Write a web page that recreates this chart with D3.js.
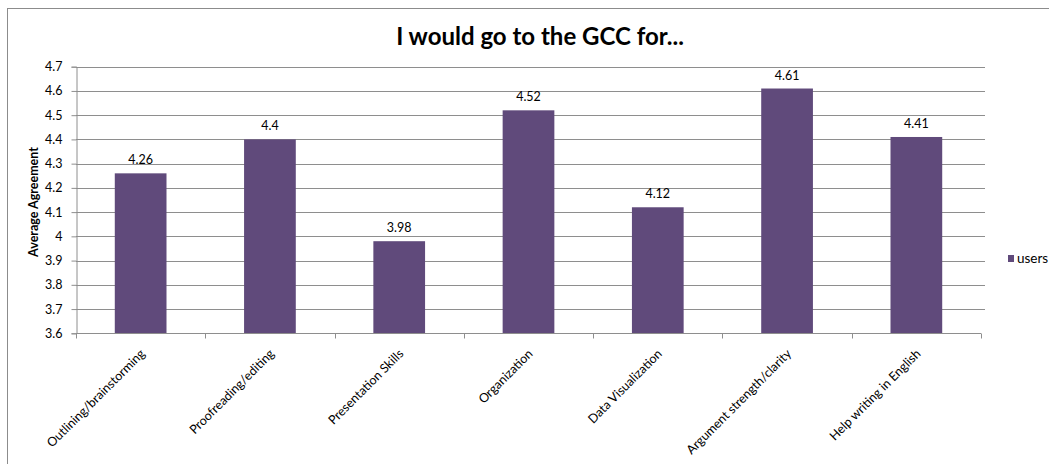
<!DOCTYPE html>
<html>
<head>
<meta charset="utf-8">
<script src="https://cdn.jsdelivr.net/npm/d3@7"></script>
<style>
  html, body { margin: 0; padding: 0; background: #fff; }
  svg { display: block; font-family: Lato, "Open Sans", "Liberation Sans", sans-serif; }
</style>
</head>
<body>
<svg id="chart" width="1049" height="464"></svg>
<script>
// Survey results: average agreement per service
const categories = [
  "Outlining/brainstorming",
  "Proofreading/editing",
  "Presentation Skills",
  "Organization",
  "Data Visualization",
  "Argument strength/clarity",
  "Help writing in English"
];
const users = [4.26, 4.4, 3.98, 4.52, 4.12, 4.61, 4.41];
const yTicks = [3.6, 3.7, 3.8, 3.9, 4, 4.1, 4.2, 4.3, 4.4, 4.5, 4.6, 4.7];
const seriesName = "users";
const chartTitle = "I would go to the GCC for...";
const yAxisTitle = "Average Agreement";

const svg = d3.select("#chart");
const W = 1049, H = 464;
const plot = { left: 76, right: 981, top: 66.7, bottom: 333.3 };
const barColor = "#604a7b";
const gridColor = "#8e8e8e";
const labelSize = "12.5px";

// outer chart frame
svg.append("rect")
  .attr("x", 7.5).attr("y", 8.5)
  .attr("width", W + 10).attr("height", H + 10)
  .attr("fill", "none").attr("stroke", "#8c8c8c").attr("stroke-width", 1);

const x = d3.scaleBand().domain(categories).range([plot.left, plot.right]).paddingInner(0.6).paddingOuter(0.3);
const xOuter = d3.scaleBand().domain(categories).range([plot.left, plot.right]);
const y = d3.scaleLinear().domain([3.6, 4.7]).range([plot.bottom, plot.top]);

// horizontal gridlines
svg.append("g").selectAll("line").data(yTicks.slice(1)).join("line")
  .attr("x1", plot.left).attr("x2", plot.right + 4)
  .attr("y1", d => Math.round(y(d)) + 0.5).attr("y2", d => Math.round(y(d)) + 0.5)
  .attr("stroke", gridColor).attr("stroke-width", 1);

// y axis
const yAxis = svg.append("g")
  .attr("transform", `translate(${plot.left + 0.5},0)`)
  .call(d3.axisLeft(y).tickValues(yTicks).tickSize(5).tickPadding(9).tickFormat(d => String(d)));
yAxis.select(".domain").attr("stroke", gridColor);
yAxis.selectAll(".tick line").attr("stroke", gridColor);
yAxis.selectAll(".tick text").attr("fill", "#000").style("font-size", labelSize)
  .style("font-family", "Lato, 'Open Sans', sans-serif");

// bars
svg.append("g").selectAll("rect").data(users).join("rect")
  .attr("x", (d, i) => x(categories[i]))
  .attr("width", x.bandwidth())
  .attr("y", d => y(d))
  .attr("height", d => y(3.6) - y(d))
  .attr("fill", barColor);

// value labels
svg.append("g").selectAll("text").data(users).join("text")
  .attr("x", (d, i) => x(categories[i]) + x.bandwidth() / 2)
  .attr("y", d => y(d) - 9)
  .attr("text-anchor", "middle")
  .style("font-size", labelSize)
  .attr("fill", "#000")
  .text(d => String(d));

// x axis with ticks at category boundaries
const xAxisG = svg.append("g").attr("transform", `translate(0,${Math.round(plot.bottom) + 0.5})`);
xAxisG.append("line")
  .attr("x1", plot.left).attr("x2", plot.right)
  .attr("stroke", gridColor);
const bounds = categories.map(c => xOuter(c)).concat([plot.right]);
xAxisG.selectAll("line.tk").data(bounds).join("line").attr("class", "tk")
  .attr("x1", d => Math.round(d) + 0.5).attr("x2", d => Math.round(d) + 0.5)
  .attr("y1", 0).attr("y2", 5)
  .attr("stroke", gridColor);

// rotated category labels
xAxisG.selectAll("text").data(categories).join("text")
  .attr("transform", c => `translate(${xOuter(c) + xOuter.bandwidth() / 2 + 5},${21}) rotate(-45)`)
  .attr("text-anchor", "end")
  .style("font-size", labelSize)
  .attr("fill", "#000")
  .text(c => c);

// y axis title
svg.append("text")
  .attr("transform", `translate(38,${202}) rotate(-90)`)
  .attr("text-anchor", "middle")
  .style("font-size", "12.5px").style("font-weight", "bold")
  .attr("fill", "#000")
  .text(yAxisTitle);

// chart title
svg.append("text")
  .attr("x", 540).attr("y", 45)
  .attr("text-anchor", "middle")
  .style("font-size", "24px").style("font-weight", "bold")
  .attr("fill", "#000")
  .text(chartTitle);

// legend
const lg = svg.append("g").attr("transform", "translate(1008,255)");
lg.append("rect").attr("width", 6).attr("height", 7).attr("fill", barColor);
lg.append("text").attr("x", 9).attr("y", 8)
  .style("font-size", "13.5px").attr("fill", "#000").text(seriesName);
</script>
</body>
</html>
